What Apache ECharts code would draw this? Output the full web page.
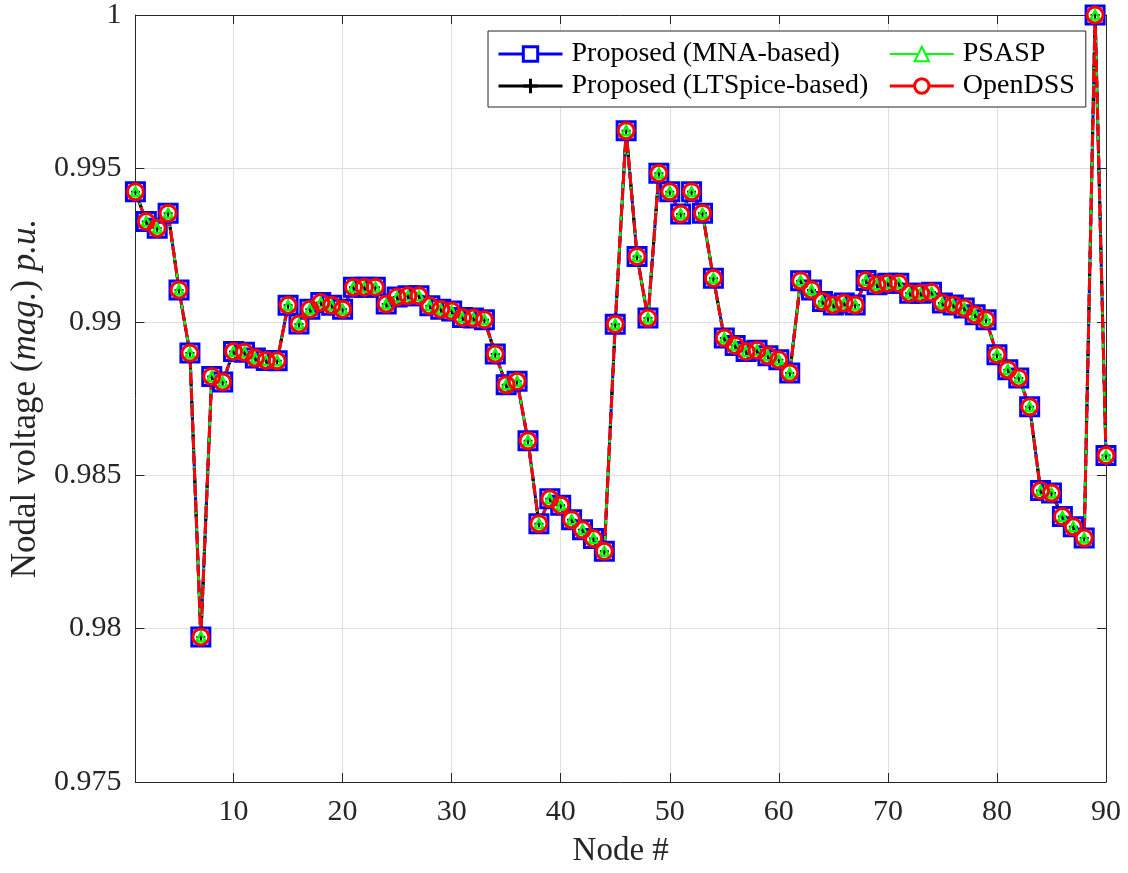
<!DOCTYPE html>
<html>
<head>
<meta charset="utf-8">
<script src="https://cdn.jsdelivr.net/npm/echarts@6/dist/echarts.min.js"></script>
<style>
  html, body { margin: 0; padding: 0; background: #fff; }
  #chart { width: 1128px; height: 873px; }
</style>
</head>
<body>
<div id="chart"></div>
<script>
// Node numbers along the feeder
const nodes = [
  1, 2, 3, 4, 5, 6, 7, 8, 9, 10,
  11, 12, 13, 14, 15, 16, 17, 18, 19, 20,
  21, 22, 23, 24, 25, 26, 27, 28, 29, 30,
  31, 32, 33, 34, 35, 36, 37, 38, 39, 40,
  41, 42, 43, 44, 45, 46, 47, 48, 49, 50,
  51, 52, 53, 54, 55, 56, 57, 58, 59, 60,
  61, 62, 63, 64, 65, 66, 67, 68, 69, 70,
  71, 72, 73, 74, 75, 76, 77, 78, 79, 80,
  81, 82, 83, 84, 85, 86, 87, 88, 89, 90
];

// Nodal voltage magnitudes (p.u.) from each solver
const vMNA = [
  0.99424, 0.99327, 0.99305, 0.99354, 0.99104, 0.98898, 0.97973, 0.98822, 0.98804, 0.98903,
  0.98901, 0.98882, 0.98874, 0.98873, 0.99054, 0.98993, 0.99041, 0.99063, 0.99054, 0.99041,
  0.99113, 0.99113, 0.99113, 0.99058, 0.99081, 0.99085, 0.99085, 0.99052, 0.99041, 0.99035,
  0.99014, 0.99012, 0.99007, 0.98895, 0.98795, 0.98806, 0.98612, 0.98342, 0.98423, 0.98402,
  0.98355, 0.98322, 0.98294, 0.98252, 0.98992, 0.99623, 0.99213, 0.99012, 0.99484, 0.99424,
  0.99351, 0.99424, 0.99354, 0.99142, 0.98947, 0.98923, 0.98903, 0.98907, 0.98889, 0.98876,
  0.98833, 0.99134, 0.99104, 0.99066, 0.99055, 0.99061, 0.99055, 0.99135, 0.99121, 0.99126,
  0.99126, 0.99093, 0.99093, 0.99096, 0.99061, 0.99055, 0.99045, 0.99023, 0.99007, 0.98893,
  0.98844, 0.98817, 0.98723, 0.98450, 0.98442, 0.98365, 0.98332, 0.98295, 1.00000, 0.98564
];
const vLTSpice = [
  0.99424, 0.99327, 0.99305, 0.99354, 0.99104, 0.98898, 0.97973, 0.98822, 0.98804, 0.98903,
  0.98901, 0.98882, 0.98874, 0.98873, 0.99054, 0.98993, 0.99041, 0.99063, 0.99054, 0.99041,
  0.99113, 0.99113, 0.99113, 0.99058, 0.99081, 0.99085, 0.99085, 0.99052, 0.99041, 0.99035,
  0.99014, 0.99012, 0.99007, 0.98895, 0.98795, 0.98806, 0.98612, 0.98342, 0.98423, 0.98402,
  0.98355, 0.98322, 0.98294, 0.98252, 0.98992, 0.99623, 0.99213, 0.99012, 0.99484, 0.99424,
  0.99351, 0.99424, 0.99354, 0.99142, 0.98947, 0.98923, 0.98903, 0.98907, 0.98889, 0.98876,
  0.98833, 0.99134, 0.99104, 0.99066, 0.99055, 0.99061, 0.99055, 0.99135, 0.99121, 0.99126,
  0.99126, 0.99093, 0.99093, 0.99096, 0.99061, 0.99055, 0.99045, 0.99023, 0.99007, 0.98893,
  0.98844, 0.98817, 0.98723, 0.98450, 0.98442, 0.98365, 0.98332, 0.98295, 1.00000, 0.98564
];
const vPSASP = [
  0.99424, 0.99327, 0.99305, 0.99354, 0.99104, 0.98898, 0.97973, 0.98822, 0.98804, 0.98903,
  0.98901, 0.98882, 0.98874, 0.98873, 0.99054, 0.98993, 0.99041, 0.99063, 0.99054, 0.99041,
  0.99113, 0.99113, 0.99113, 0.99058, 0.99081, 0.99085, 0.99085, 0.99052, 0.99041, 0.99035,
  0.99014, 0.99012, 0.99007, 0.98895, 0.98795, 0.98806, 0.98612, 0.98342, 0.98423, 0.98402,
  0.98355, 0.98322, 0.98294, 0.98252, 0.98992, 0.99623, 0.99213, 0.99012, 0.99484, 0.99424,
  0.99351, 0.99424, 0.99354, 0.99142, 0.98947, 0.98923, 0.98903, 0.98907, 0.98889, 0.98876,
  0.98833, 0.99134, 0.99104, 0.99066, 0.99055, 0.99061, 0.99055, 0.99135, 0.99121, 0.99126,
  0.99126, 0.99093, 0.99093, 0.99096, 0.99061, 0.99055, 0.99045, 0.99023, 0.99007, 0.98893,
  0.98844, 0.98817, 0.98723, 0.98450, 0.98442, 0.98365, 0.98332, 0.98295, 1.00000, 0.98564
];
const vOpenDSS = [
  0.99424, 0.99327, 0.99305, 0.99354, 0.99104, 0.98898, 0.97973, 0.98822, 0.98804, 0.98903,
  0.98901, 0.98882, 0.98874, 0.98873, 0.99054, 0.98993, 0.99041, 0.99063, 0.99054, 0.99041,
  0.99113, 0.99113, 0.99113, 0.99058, 0.99081, 0.99085, 0.99085, 0.99052, 0.99041, 0.99035,
  0.99014, 0.99012, 0.99007, 0.98895, 0.98795, 0.98806, 0.98612, 0.98342, 0.98423, 0.98402,
  0.98355, 0.98322, 0.98294, 0.98252, 0.98992, 0.99623, 0.99213, 0.99012, 0.99484, 0.99424,
  0.99351, 0.99424, 0.99354, 0.99142, 0.98947, 0.98923, 0.98903, 0.98907, 0.98889, 0.98876,
  0.98833, 0.99134, 0.99104, 0.99066, 0.99055, 0.99061, 0.99055, 0.99135, 0.99121, 0.99126,
  0.99126, 0.99093, 0.99093, 0.99096, 0.99061, 0.99055, 0.99045, 0.99023, 0.99007, 0.98893,
  0.98844, 0.98817, 0.98723, 0.98450, 0.98442, 0.98365, 0.98332, 0.98295, 1.00000, 0.98564
];

const seriesNames = [
  'Proposed (MNA-based)',
  'Proposed (LTSpice-based)',
  'PSASP',
  'OpenDSS'
];

const FONT = "'Liberation Serif', 'Times New Roman', serif";
const INK = '#262626';
const PLUS = 'path://M5,0 L5,10 M0,5 L10,5';

const styles = [
  { data: vMNA, color: '#0000ff', symbol: 'rect', size: 18, border: 3, fill: '#ffffff',
    line: { type: 'solid', width: 3 } },
  { data: vLTSpice, color: '#000000', symbol: PLUS, size: 9, border: 2, fill: 'transparent',
    line: { type: [6, 5], width: 3 } },
  { data: vPSASP, color: '#00ff00', symbol: 'triangle', size: 9, border: 2.5, fill: 'transparent',
    line: { type: [9, 3, 2, 3], width: 2.5 } },
  { data: vOpenDSS, color: '#ff0000', symbol: 'circle', size: 16, border: 3, fill: 'transparent',
    line: { type: [12, 4], width: 3 } }
];

const tenth = (i, v) => Number(v) % 10 === 0;

// connecting lines (legend entries come from these)
const lineSeries = styles.map((s, k) => ({
  name: seriesNames[k],
  type: 'line',
  data: s.data,
  showSymbol: false,
  symbol: s.symbol,
  symbolSize: s.size,
  itemStyle: { color: s.fill === 'transparent' ? '#ffffff' : s.fill, borderColor: s.color, borderWidth: 2 },
  lineStyle: { color: s.color, width: s.line.width, type: s.line.type },
  emphasis: { disabled: true },
  silent: true,
  z: 2
}));

// markers on top of all lines
const markerSeries = styles.map((s, k) => ({
  name: seriesNames[k] + ' markers',
  type: 'scatter',
  data: s.data,
  symbol: s.symbol,
  symbolSize: s.size,
  itemStyle: { color: s.fill, borderColor: s.color, borderWidth: s.border, opacity: 1 },
  emphasis: { disabled: true },
  silent: true,
  z: 3
}));

const legendItems = styles.map((s, k) => ({
  name: seriesNames[k],
  itemStyle: { color: '#ffffff', borderColor: s.color, borderWidth: k === 2 ? 2 : 3 },
  lineStyle: { color: s.color, width: k === 2 ? 2 : 3, type: 'solid' },
  textStyle: { padding: k < 2 ? [0, 16, 0, 4] : [0, 0, 0, 4] }
}));

const chart = echarts.init(document.getElementById('chart'), null, { renderer: 'canvas' });

chart.setOption({
  animation: false,
  backgroundColor: '#ffffff',
  grid: { left: 132, top: 15, right: 22, bottom: 90, containLabel: false },
  legend: {
    data: legendItems,
    orient: 'vertical',
    left: 488,
    top: 31,
    height: 64,
    padding: [9, 11, 7, 9],
    itemGap: 4,
    itemWidth: 64,
    itemHeight: 18,
    backgroundColor: '#ffffff',
    borderColor: INK,
    borderWidth: 1,
    selectedMode: false,
    textStyle: { fontFamily: FONT, fontSize: 28, lineHeight: 28, color: '#000000' }
  },
  xAxis: [
    {
      type: 'category',
      data: nodes,
      boundaryGap: false,
      name: 'Node #',
      nameLocation: 'middle',
      nameGap: 53,
      nameTextStyle: { fontFamily: FONT, fontSize: 33, color: INK },
      axisLine: { lineStyle: { color: INK, width: 1 } },
      axisTick: { inside: true, length: 9, interval: tenth, lineStyle: { color: INK } },
      axisLabel: { interval: tenth, margin: 15, fontFamily: FONT, fontSize: 30, color: INK },
      splitLine: { show: true, interval: tenth, lineStyle: { color: '#dfdfdf', width: 1 } }
    },
    {
      type: 'category',
      data: nodes,
      boundaryGap: false,
      position: 'top',
      axisLine: { lineStyle: { color: INK, width: 1 } },
      axisTick: { inside: true, length: 9, interval: tenth, lineStyle: { color: INK } },
      axisLabel: { show: false },
      splitLine: { show: false }
    }
  ],
  yAxis: [
    {
      type: 'value',
      min: 0.975,
      max: 1,
      interval: 0.005,
      name: '{n|Nodal voltage (}{i|mag.}{n|) }{i|p.u.}',
      nameLocation: 'middle',
      nameGap: 84,
      nameTextStyle: {
        rich: {
          n: { fontFamily: FONT, fontSize: 35, color: INK },
          i: { fontFamily: FONT, fontSize: 35, color: INK, fontStyle: 'italic' }
        }
      },
      axisLine: { show: true, lineStyle: { color: INK, width: 1 } },
      axisTick: { show: true, inside: true, length: 9, lineStyle: { color: INK } },
      axisLabel: {
        margin: 14, fontFamily: FONT, fontSize: 30, color: INK,
        formatter: v => String(Number(v.toFixed(3)))
      },
      splitLine: { show: true, lineStyle: { color: '#dfdfdf', width: 1 } }
    },
    {
      type: 'value',
      min: 0.975,
      max: 1,
      interval: 0.005,
      position: 'right',
      axisLine: { show: true, lineStyle: { color: INK, width: 1 } },
      axisTick: { show: true, inside: true, length: 9, lineStyle: { color: INK } },
      axisLabel: { show: false },
      splitLine: { show: false }
    }
  ],
  series: lineSeries.concat(markerSeries)
});
</script>
</body>
</html>
